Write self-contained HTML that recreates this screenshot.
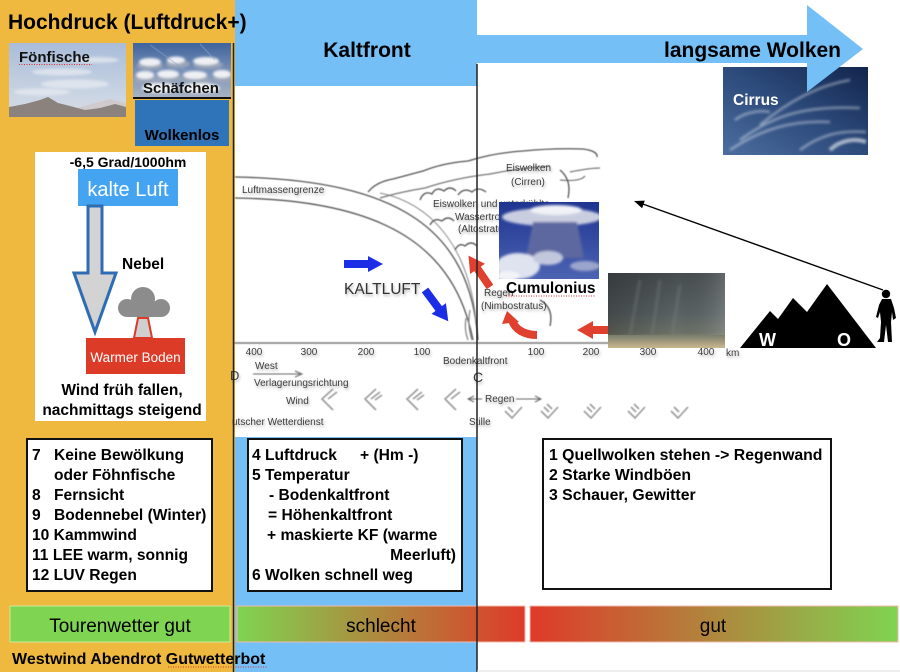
<!DOCTYPE html>
<html><head><meta charset="utf-8"><style>
html,body{margin:0;padding:0;background:#fff;}
body{width:900px;height:672px;overflow:hidden;}
svg{display:block;}
</style></head><body>
<svg width="900" height="672" viewBox="0 0 900 672" xmlns="http://www.w3.org/2000/svg" font-family="'Liberation Sans', Arial, sans-serif">
<defs>
<linearGradient id="gFoen" x1="0" y1="0" x2="0" y2="1"><stop offset="0" stop-color="#a9bcd9"/><stop offset="0.6" stop-color="#c5d1e2"/><stop offset="1" stop-color="#d9dde5"/></linearGradient>
<linearGradient id="gSchaf" x1="0" y1="0" x2="0" y2="1"><stop offset="0" stop-color="#3f639c"/><stop offset="0.5" stop-color="#7890b8"/><stop offset="1" stop-color="#a9b3c4"/></linearGradient>
<linearGradient id="gCb" x1="0" y1="0" x2="0" y2="1"><stop offset="0" stop-color="#1f3490"/><stop offset="1" stop-color="#4c63b3"/></linearGradient>
<linearGradient id="gRain" x1="0" y1="0" x2="0" y2="1"><stop offset="0" stop-color="#474d50"/><stop offset="0.55" stop-color="#5a6263"/><stop offset="0.8" stop-color="#6d7268"/><stop offset="1" stop-color="#c9b88e"/></linearGradient>
<linearGradient id="gRainH" x1="0" y1="0" x2="1" y2="0"><stop offset="0" stop-color="#000" stop-opacity="0.25"/><stop offset="0.6" stop-color="#000" stop-opacity="0"/><stop offset="1" stop-color="#fff" stop-opacity="0.15"/></linearGradient>
<linearGradient id="gCir" x1="1" y1="0" x2="0" y2="1"><stop offset="0" stop-color="#12254d"/><stop offset="0.5" stop-color="#2d4b7c"/><stop offset="1" stop-color="#4c6e9f"/></linearGradient>
<linearGradient id="gBad" x1="0" y1="0" x2="1" y2="0"><stop offset="0" stop-color="#7fd451"/><stop offset="1" stop-color="#df3a29"/></linearGradient>
<linearGradient id="gGood" x1="0" y1="0" x2="1" y2="0"><stop offset="0" stop-color="#df3a29"/><stop offset="1" stop-color="#7fd451"/></linearGradient>
<filter id="sh" x="-20%" y="-50%" width="140%" height="200%"><feDropShadow dx="1" dy="2" stdDeviation="1.4" flood-color="#777" flood-opacity="0.55"/></filter>
<filter id="bl"><feGaussianBlur stdDeviation="0.45"/></filter>
<filter id="bl2"><feGaussianBlur stdDeviation="1.4"/></filter>
<clipPath id="cSchaf"><rect x="133" y="43" width="98" height="55"/></clipPath>
<clipPath id="cCb"><rect x="499" y="202" width="100" height="77"/></clipPath>
<clipPath id="cCir"><rect x="723" y="67" width="145" height="88"/></clipPath>
<clipPath id="cFoen"><rect x="9" y="43" width="117" height="74"/></clipPath>
<clipPath id="cRain"><rect x="608" y="273" width="117" height="75"/></clipPath>
</defs>

<!-- backgrounds -->
<rect width="900" height="672" fill="#fff"/>
<rect x="0" y="0" width="235" height="672" fill="#EEB93E"/>
<rect x="235" y="0" width="242" height="86" fill="#73BFF6"/>
<rect x="235" y="437" width="242" height="235" fill="#73BFF6"/>

<!-- ===== diagram (center/right) ===== -->
<g filter="url(#bl)" fill="none" stroke="#555" stroke-width="1.3">
  <path d="M235,177 C400,180 470,230 478,340"/>
  <path d="M380,193 C430,203 468,245 476,320" stroke="#888" stroke-width="1"/>
  <path d="M235,198 C390,200 455,250 473,340"/>
  <path d="M234,343 H718" stroke="#777" stroke-width="1.4"/>
  <path d="M368,192 q8,-10 25,-13 q15,-4 30,-8 q20,-8 45,-10 q25,-8 55,-10 q30,-3 60,-2 q15,2 14,8"/>
  <path d="M380,198 q20,-6 45,-10 q30,-10 65,-14 q30,-6 60,-8" stroke="#777"/>
  <path d="M570,172 q20,-4 30,-4 M560,180 q20,2 25,-4" stroke="#777"/>
  <path d="M420,200 q4,-10 12,-6 q4,-8 12,-3 q6,-6 12,0 M458,195 q6,-8 14,-3 q6,-6 14,0"/>
  <path d="M430,225 q4,-8 12,-4 q6,-6 12,0 M455,250 q4,-8 10,-4 q6,-6 12,0"/>
  <path d="M560,170 q12,10 8,28 M540,300 q14,8 10,26"/>
  <path d="M470,310 q-3,15 2,30 M466,318 q-2,12 2,22" stroke="#888"/>
  <path d="M253,374 H300 M295,371 L302,374 L295,377" stroke="#666" stroke-width="1"/>
  <path d="M468,399 H482 M516,399 H540 M535,396 L541,399 L535,402 M474,396 L468,399 L474,402" stroke="#666" stroke-width="1"/>
  <g stroke="#999" stroke-width="1.6">
    <path d="M333,389 L322,399 L333,410 M337,392 L328,399"/>
    <path d="M376,389 L365,399 L376,410 M380,392 L371,399 M382,395 L375,400"/>
    <path d="M418,389 L407,399 L418,410 M422,392 L413,399 M424,395 L417,400"/>
    <path d="M456,389 L445,399 L456,410 M460,392 L451,399"/>
  </g>
  <g stroke="#999" stroke-width="1.6">
    <path d="M505,411 L512,418 L522,407 M508,407 L513,412"/>
    <path d="M541,411 L548,418 L558,407 M544,407 L549,412 M547,404 L552,409"/>
    <path d="M584,411 L591,418 L601,407 M587,407 L592,412 M590,404 L595,409"/>
    <path d="M628,411 L635,418 L645,407 M631,407 L636,412 M634,404 L639,409"/>
    <path d="M671,411 L678,418 L688,407 M674,407 L679,412"/>
  </g>
</g>

<g fill="#3a3a3a" font-size="10" filter="url(#sh)">
  <text x="242" y="193">Luftmassengrenze</text>
  <text x="506" y="171">Eiswolken</text>
  <text x="511" y="185">(Cirren)</text>
  <text x="433" y="207">Eiswolken und unterkühlte</text>
  <text x="455" y="220">Wassertropfen</text>
  <text x="458" y="232">(Altostratus)</text>
  <text x="484" y="296">Regen</text>
  <text x="481" y="309">(Nimbostratus)</text>
  <text x="254" y="355" text-anchor="middle">400</text>
  <text x="309" y="355" text-anchor="middle">300</text>
  <text x="366" y="355" text-anchor="middle">200</text>
  <text x="422" y="355" text-anchor="middle">100</text>
  <text x="536" y="355" text-anchor="middle">100</text>
  <text x="591" y="355" text-anchor="middle">200</text>
  <text x="648" y="355" text-anchor="middle">300</text>
  <text x="706" y="355" text-anchor="middle">400</text>
  <text x="726" y="356">km</text>
  <text x="255" y="369">West</text>
  <text x="254" y="386">Verlagerungsrichtung</text>
  <text x="286" y="404">Wind</text>
  <text x="230" y="380" font-size="13">D</text>
  <text x="232" y="425">utscher Wetterdienst</text>
  <text x="443" y="364">Bodenkaltfront</text>
  <text x="473" y="382" font-size="14">C</text>
  <text x="485" y="402">Regen</text>
  <text x="469" y="425">Stille</text>
</g>

<!-- blue arrows -->
<polygon points="344,260 368,260 368,256 383,264 368,272 368,268 344,268" fill="#1c2de6"/>
<g transform="translate(425,290) rotate(53.4)"><polygon points="0,-4 23,-4 23,-9 39,0 23,9 23,4 0,4" fill="#1c2de6"/></g>
<text x="344" y="294" font-size="15.5" fill="#333" filter="url(#sh)">KALTLUFT</text>

<!-- red arrows -->
<g transform="translate(490,287) rotate(235.5)"><polygon points="0,-4 22,-4 22,-9 38,0 22,9 22,4 0,4" fill="#e0402e"/></g>
<path d="M537,335 C525,335 515,330 512,320" fill="none" stroke="#e0402e" stroke-width="8"/>
<polygon points="507,311 502,324 519,322" fill="#e0402e"/>
<polygon points="577,330 593,321 593,326 612,326 612,334 593,334 593,339" fill="#e0402e"/>

<!-- Cumulonimbus photo -->
<rect x="499" y="202" width="100" height="77" fill="url(#gCb)"/>
<g clip-path="url(#cCb)"><g filter="url(#bl2)">
  <ellipse cx="552" cy="217" rx="50" ry="9" fill="#c9cde0"/>
  <ellipse cx="556" cy="210" rx="26" ry="5" fill="#f0f2f7"/>
  <path d="M533,222 L577,222 L584,258 L526,258 Z" fill="#5d67a0"/>
  <ellipse cx="518" cy="266" rx="22" ry="13" fill="#dfe2ef"/>
  <ellipse cx="548" cy="258" rx="15" ry="7" fill="#c2c7de"/>
  <ellipse cx="585" cy="266" rx="15" ry="5" fill="#9ba4cc"/>
  <ellipse cx="508" cy="276" rx="12" ry="5" fill="#f2f3f8"/>
</g></g>
<text x="506" y="293" font-size="15.5" font-weight="bold" fill="#000">Cumulonius</text>
<line x1="506" y1="296" x2="595" y2="296" stroke="#e03030" stroke-width="1" stroke-dasharray="1,1.5"/>

<!-- rain photo -->
<rect x="608" y="273" width="117" height="75" fill="url(#gRain)"/>
<rect x="608" y="273" width="117" height="62" fill="url(#gRainH)"/>
<g clip-path="url(#cRain)" filter="url(#bl2)" stroke="#7a8283" stroke-opacity="0.35" stroke-width="3">
  <path d="M640,280 L630,335 M660,280 L652,335 M680,285 L672,335"/>
</g>

<!-- mountains -->
<polygon points="740,348 770,311 778,319 793,298 807,312 827,284 876,348" fill="#000"/>
<text x="759" y="346" font-size="18" font-weight="bold" fill="#fff">W</text>
<text x="837" y="346" font-size="18" font-weight="bold" fill="#fff">O</text>
<circle cx="886" cy="294" r="4.2" fill="#000"/>
<path d="M882,299 L891,299 L894,308 L896,318 L893,320 L892,312 L891,322 L892,342 L888,342 L886,325 L884,342 L877,342 L880,338 L881,322 L880,312 L878,318 L876,317 L879,305 Z" fill="#000"/>
<line x1="883" y1="290" x2="640" y2="203" stroke="#000" stroke-width="1.4"/>
<polygon points="634,201 644.8,200.6 642.1,208.2" fill="#000"/>

<!-- Cirrus photo -->
<rect x="723" y="67" width="145" height="88" fill="url(#gCir)"/>
<g clip-path="url(#cCir)" fill="none" stroke="#fff" stroke-opacity="0.4" stroke-width="2.5" filter="url(#bl2)">
  <path d="M730,150 C760,130 790,120 830,122"/>
  <path d="M740,140 C770,118 800,105 860,108"/>
  <path d="M800,150 C820,135 840,130 866,132"/>
  <path d="M760,125 C790,100 820,85 850,80"/>
  <path d="M735,120 C745,112 760,110 770,112"/>
  <path d="M830,150 C840,140 855,138 866,142" stroke-opacity="0.6" stroke-width="4"/>
</g>
<text x="733" y="105" font-size="15.5" font-weight="bold" fill="#fff">Cirrus</text>

<!-- big arrow -->
<polygon points="476,35 807,35 807,5 863,49 807,92 807,63 476,63" fill="#73BFF6"/>
<text x="664" y="57" font-size="21" font-weight="bold" fill="#000">langsame Wolken</text>
<text x="367" y="57" font-size="21" font-weight="bold" fill="#000" text-anchor="middle">Kaltfront</text>

<!-- ===== left column ===== -->
<text x="8" y="29" font-size="21" font-weight="bold" fill="#000">Hochdruck (Luftdruck+)</text>

<!-- Fönfische photo -->
<rect x="9" y="43" width="117" height="74" fill="url(#gFoen)"/>
<g clip-path="url(#cFoen)">
<g fill="#e9edf3" opacity="0.7" filter="url(#bl2)">
  <ellipse cx="62" cy="72" rx="30" ry="3.5"/>
  <ellipse cx="75" cy="84" rx="34" ry="4.5"/>
  <ellipse cx="42" cy="92" rx="28" ry="3.5"/>
  <ellipse cx="95" cy="60" rx="24" ry="3"/>
</g>
<polygon points="70,110 95,103 110,99 126,103 126,112" fill="#cfcbcd"/>
<polygon points="9,117 9,107 25,104 40,100 48,97 58,103 70,106 85,110 100,108 115,104 126,107 126,117" fill="#8b827e"/>
</g>
<text x="19" y="62" font-size="15" font-weight="bold" fill="#111">Fönfische</text>
<line x1="19" y1="64.5" x2="92" y2="64.5" stroke="#e03030" stroke-width="1" stroke-dasharray="1,1.5"/>

<!-- Schäfchen photo -->
<rect x="133" y="43" width="98" height="55" fill="url(#gSchaf)"/>
<g clip-path="url(#cSchaf)">
<g filter="url(#bl2)">
  <g fill="#9aa5b8">
    <ellipse cx="150" cy="66" rx="13" ry="4"/><ellipse cx="178" cy="64" rx="12" ry="4"/><ellipse cx="208" cy="65" rx="15" ry="4"/>
    <ellipse cx="146" cy="80" rx="12" ry="4"/><ellipse cx="170" cy="79" rx="13" ry="4"/><ellipse cx="197" cy="80" rx="14" ry="4"/><ellipse cx="224" cy="79" rx="11" ry="4"/>
  </g>
  <g fill="#eef0f4">
    <ellipse cx="150" cy="62" rx="11" ry="4"/><ellipse cx="176" cy="60" rx="9" ry="3.5"/><ellipse cx="206" cy="61" rx="13" ry="4"/>
    <ellipse cx="145" cy="75" rx="9" ry="4"/><ellipse cx="168" cy="74" rx="11" ry="4"/><ellipse cx="195" cy="75" rx="12" ry="4"/><ellipse cx="222" cy="74" rx="9" ry="4"/>
    <ellipse cx="160" cy="88" rx="18" ry="5"/><ellipse cx="200" cy="88" rx="20" ry="5"/>
  </g>
</g>
<path d="M150,45 L185,70 M200,44 L215,60" stroke="#8fa5c8" stroke-width="1" opacity="0.6"/>
</g>
<text x="143" y="93" font-size="15" font-weight="bold" fill="#111">Schäfchen</text>
<line x1="133" y1="98" x2="231" y2="98" stroke="#111" stroke-width="2"/>

<!-- Wolkenlos -->
<rect x="135" y="100" width="94" height="46" fill="#2F73B9"/>
<text x="182" y="140" font-size="15" font-weight="bold" fill="#000" text-anchor="middle">Wolkenlos</text>

<!-- white info box -->
<rect x="35" y="152" width="171" height="269" fill="#fff"/>
<text x="128" y="167" font-size="14" font-weight="bold" fill="#000" text-anchor="middle">-6,5 Grad/1000hm</text>
<rect x="78" y="169" width="100" height="37" fill="#45A4F1"/>
<text x="128" y="196" font-size="20" fill="#fff" text-anchor="middle">kalte Luft</text>
<polygon points="88,206 102,206 102,273 116,273 95,332 74,273 88,273" fill="#D3D3D3" stroke="#2E6DB4" stroke-width="3" stroke-linejoin="miter"/>
<text x="122" y="269" font-size="15.5" font-weight="bold" fill="#000">Nebel</text>
<g fill="#8C8C8C">
  <circle cx="143" cy="299" r="12"/>
  <circle cx="127" cy="308" r="9"/>
  <circle cx="161" cy="308" r="9"/>
  <rect x="127" y="305" width="34" height="12"/>
</g>
<polygon points="138,318 148,318 152,338 134,338" fill="#cfcfcf" stroke="#DC3A27" stroke-width="2"/>
<rect x="86" y="338" width="99" height="36" fill="#DC3B28"/>
<text x="135.5" y="362" font-size="13.5" fill="#fff" text-anchor="middle">Warmer Boden</text>
<text x="122" y="395" font-size="15.5" font-weight="bold" fill="#000" text-anchor="middle">Wind früh fallen,</text>
<text x="122" y="415" font-size="15.5" font-weight="bold" fill="#000" text-anchor="middle">nachmittags steigend</text>

<!-- ===== bottom boxes ===== -->
<rect x="27" y="439" width="185" height="152" fill="#fff" stroke="#111" stroke-width="2"/>
<g font-size="15.6" font-weight="bold" fill="#000">
  <text x="32" y="460">7</text><text x="54" y="460">Keine Bewölkung</text>
  <text x="54" y="480">oder Föhnfische</text>
  <text x="32" y="500">8</text><text x="54" y="500">Fernsicht</text>
  <text x="32" y="520">9</text><text x="54" y="520">Bodennebel (Winter)</text>
  <text x="32" y="540">10 Kammwind</text>
  <text x="32" y="560">11 LEE warm, sonnig</text>
  <text x="32" y="580">12 LUV Regen</text>
</g>

<rect x="248" y="439" width="214" height="152" fill="#fff" stroke="#111" stroke-width="2"/>
<g font-size="15.6" font-weight="bold" fill="#000">
  <text x="252" y="460">4 Luftdruck</text><text x="360" y="460">+ (Hm -)</text>
  <text x="252" y="480">5 Temperatur</text>
  <text x="269" y="500">- Bodenkaltfront</text>
  <text x="268" y="520">= Höhenkaltfront</text>
  <text x="267" y="540">+ maskierte KF (warme</text>
  <text x="456" y="560" text-anchor="end">Meerluft)</text>
  <text x="252" y="580">6 Wolken schnell weg</text>
</g>

<rect x="543" y="439" width="288" height="150" fill="#fff" stroke="#111" stroke-width="2"/>
<g font-size="15.8" font-weight="bold" fill="#000">
  <text x="549" y="460">1 Quellwolken stehen -&gt; Regenwand</text>
  <text x="549" y="480">2 Starke Windböen</text>
  <text x="549" y="500">3 Schauer, Gewitter</text>
</g>

<!-- ===== bars ===== -->
<rect x="10" y="606" width="220" height="36" fill="#7FD451" stroke="#c9ec9f" stroke-width="1"/>
<text x="120" y="632" font-size="19" fill="#000" text-anchor="middle">Tourenwetter gut</text>
<rect x="237" y="606" width="288" height="36" fill="url(#gBad)" stroke="#f2b9ad" stroke-width="1"/>
<text x="381" y="632" font-size="19" fill="#000" text-anchor="middle">schlecht</text>
<rect x="530" y="606" width="368" height="36" fill="url(#gGood)" stroke="#f2b9ad" stroke-width="1"/>
<text x="713" y="632" font-size="19" fill="#000" text-anchor="middle">gut</text>

<text x="12" y="664" font-size="16" font-weight="bold" fill="#000">Westwind Abendrot Gutwetterbot</text>
<line x1="168" y1="667" x2="268" y2="667" stroke="#e03030" stroke-width="1" stroke-dasharray="1,1.5"/>

<!-- vertical separators -->
<line x1="233.5" y1="43" x2="233.5" y2="672" stroke="#222" stroke-width="1.5"/>
<line x1="477" y1="64" x2="477" y2="672" stroke="#222" stroke-width="1.5"/>
<line x1="477" y1="671" x2="900" y2="671" stroke="#ddd" stroke-width="1"/>
</svg>
</body></html>
